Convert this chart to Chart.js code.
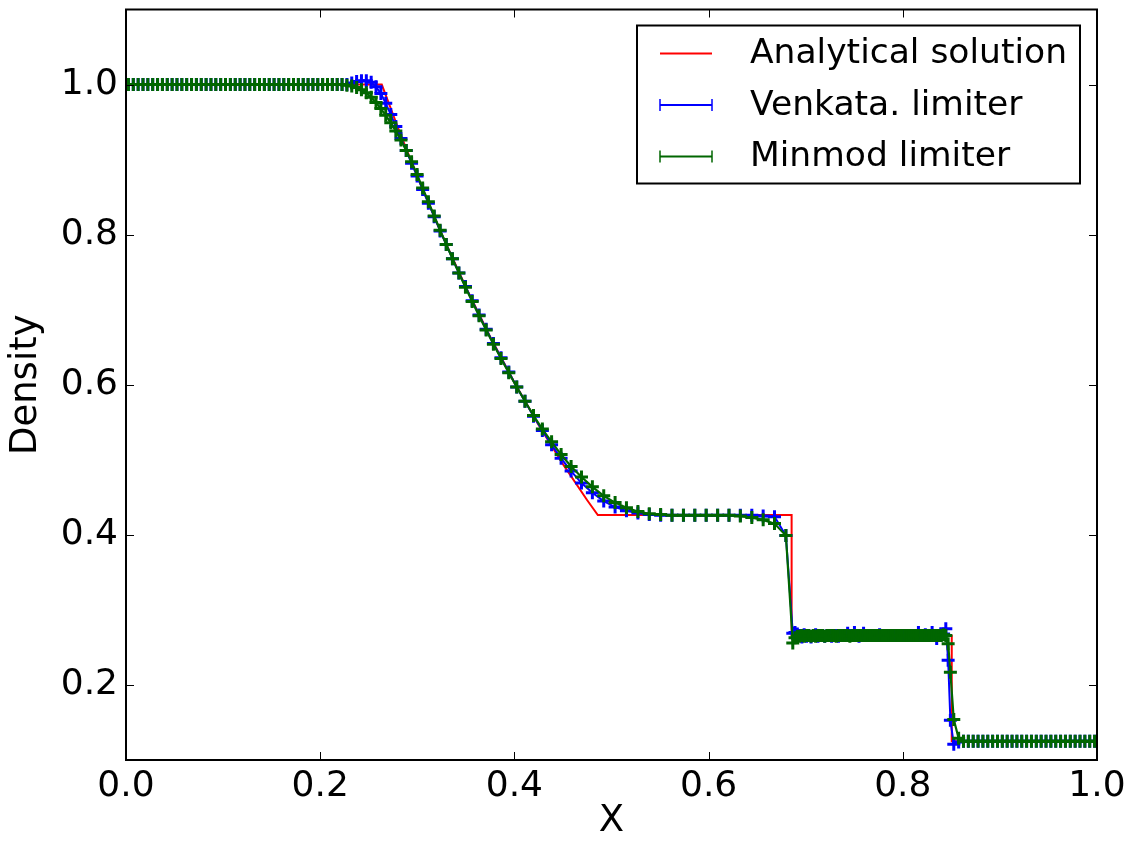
<!DOCTYPE html>
<html>
<head>
<meta charset="utf-8">
<script src="https://cdn.jsdelivr.net/npm/chart.js@4.4.0/dist/chart.umd.min.js"></script>
<style>
  body { margin: 0; background: #fff; }
  #wrap { width: 1133px; height: 844px; }
</style>
</head>
<body>
<div id="wrap"><canvas id="density-chart"></canvas></div>
<script>
// cell centres (same mesh used for both limiters)
const cellX = [
  0.0025, 0.0075, 0.0125, 0.0175, 0.0225, 0.0275, 0.0325, 0.0375, 0.0425, 0.0475,
  0.0525, 0.0575, 0.0625, 0.0675, 0.0725, 0.0775, 0.0825, 0.0875, 0.0925, 0.0975,
  0.1025, 0.1075, 0.1125, 0.1175, 0.1225, 0.1275, 0.1325, 0.1375, 0.1425, 0.1475,
  0.1525, 0.1575, 0.1625, 0.1675, 0.1725, 0.1775, 0.1825, 0.1875, 0.1925, 0.1975,
  0.2025, 0.2075, 0.2125, 0.2175, 0.2225, 0.2275, 0.2325, 0.2375, 0.2425, 0.2475,
  0.2525, 0.2575, 0.2625,
  0.2675, 0.2727, 0.2779, 0.2832, 0.2886, 0.2941, 0.2998, 0.3055, 0.3114, 0.3174,
  0.3235, 0.3298, 0.3362, 0.3428, 0.3496, 0.3565, 0.3636, 0.3709, 0.3784, 0.3862,
  0.3942, 0.4024, 0.4109, 0.4197, 0.4288, 0.4383, 0.4481, 0.4584, 0.4691, 0.4803,
  0.4920, 0.5037, 0.5154, 0.5272, 0.5389, 0.5506, 0.5623, 0.5741, 0.5858, 0.5975,
  0.6093, 0.6210, 0.6327, 0.6445, 0.6562, 0.6679, 0.6796,
  0.6867, 0.6890, 0.6914, 0.6937, 0.6961, 0.6984, 0.7008, 0.7031, 0.7055, 0.7079,
  0.7102, 0.7126, 0.7149, 0.7173, 0.7196, 0.7220, 0.7243, 0.7267, 0.7290, 0.7314,
  0.7337, 0.7361, 0.7384, 0.7408, 0.7432, 0.7455, 0.7479, 0.7502, 0.7526, 0.7549,
  0.7573, 0.7596, 0.7620, 0.7643, 0.7667, 0.7690, 0.7714, 0.7738, 0.7761, 0.7785,
  0.7808, 0.7832, 0.7855, 0.7879, 0.7902, 0.7926, 0.7949, 0.7973, 0.7996, 0.8020,
  0.8043, 0.8067, 0.8090, 0.8114, 0.8137, 0.8161, 0.8185, 0.8208, 0.8232, 0.8255,
  0.8279, 0.8302, 0.8326, 0.8349, 0.8373, 0.8396, 0.8420, 0.8443, 0.8467, 0.8490,
  0.8525, 0.8575, 0.8625, 0.8675, 0.8725, 0.8775, 0.8825, 0.8875, 0.8925, 0.8975,
  0.9025, 0.9075, 0.9125, 0.9175, 0.9225, 0.9275, 0.9325, 0.9375, 0.9425, 0.9475,
  0.9525, 0.9575, 0.9625, 0.9675, 0.9725, 0.9775, 0.9825, 0.9875, 0.9925, 0.9975
];

const venkataRho = [
  1.000, 1.000, 1.000, 1.000, 1.000, 1.000, 1.000, 1.000, 1.000, 1.000,
  1.000, 1.000, 1.000, 1.000, 1.000, 1.000, 1.000, 1.000, 1.000, 1.000,
  1.000, 1.000, 1.000, 1.000, 1.000, 1.000, 1.000, 1.000, 1.000, 1.000,
  1.000, 1.000, 1.000, 1.000, 1.000, 1.000, 1.000, 1.000, 1.000, 1.000,
  1.000, 1.000, 1.000, 1.000, 1.000, 1.000, 1.002, 1.004, 1.005, 1.005,
  1.003, 0.997, 0.988,
  0.975, 0.960, 0.944, 0.928, 0.912, 0.895, 0.878, 0.860, 0.842, 0.824,
  0.805, 0.787, 0.768, 0.749, 0.731, 0.712, 0.693, 0.674, 0.655, 0.636,
  0.617, 0.597, 0.578, 0.558, 0.539, 0.520, 0.502, 0.485, 0.469, 0.456,
  0.445, 0.437, 0.432, 0.429, 0.427, 0.426, 0.426, 0.426, 0.426, 0.426,
  0.426, 0.426, 0.426, 0.426, 0.425, 0.424, 0.399,
  0.269, 0.270, 0.268, 0.266, 0.264, 0.267, 0.265, 0.266, 0.264, 0.266,
  0.267, 0.265, 0.266, 0.266, 0.265, 0.266, 0.266, 0.265, 0.266, 0.266,
  0.265, 0.266, 0.266, 0.266, 0.269, 0.266, 0.266, 0.270, 0.266, 0.265,
  0.266, 0.269, 0.266, 0.266, 0.266, 0.266, 0.266, 0.266, 0.267, 0.266,
  0.266, 0.266, 0.266, 0.266, 0.266, 0.266, 0.266, 0.266, 0.266, 0.266,
  0.266, 0.266, 0.266, 0.266, 0.266, 0.270, 0.266, 0.266, 0.267, 0.266,
  0.266, 0.270, 0.266, 0.262, 0.266, 0.267, 0.268, 0.275, 0.233, 0.153,
  0.121, 0.124, 0.125, 0.125, 0.125, 0.125, 0.125, 0.125, 0.125, 0.125,
  0.125, 0.125, 0.125, 0.125, 0.125, 0.125, 0.125, 0.125, 0.125, 0.125,
  0.125, 0.125, 0.125, 0.125, 0.125, 0.125, 0.125, 0.125, 0.125, 0.125
];

const minmodRho = [
  1.000, 1.000, 1.000, 1.000, 1.000, 1.000, 1.000, 1.000, 1.000, 1.000,
  1.000, 1.000, 1.000, 1.000, 1.000, 1.000, 1.000, 1.000, 1.000, 1.000,
  1.000, 1.000, 1.000, 1.000, 1.000, 1.000, 1.000, 1.000, 1.000, 1.000,
  1.000, 1.000, 1.000, 1.000, 1.000, 1.000, 1.000, 1.000, 1.000, 1.000,
  1.000, 1.000, 1.000, 1.000, 1.000, 0.999, 0.998, 0.996, 0.993, 0.989,
  0.983, 0.976, 0.968,
  0.959, 0.949, 0.938, 0.926, 0.912, 0.897, 0.880, 0.862, 0.844, 0.825,
  0.806, 0.787, 0.768, 0.749, 0.730, 0.711, 0.692, 0.673, 0.654, 0.635,
  0.616, 0.597, 0.578, 0.559, 0.541, 0.524, 0.507, 0.491, 0.477, 0.464,
  0.452, 0.443, 0.436, 0.431, 0.428, 0.427, 0.426, 0.426, 0.426, 0.426,
  0.426, 0.426, 0.425, 0.423, 0.420, 0.415, 0.399,
  0.256, 0.263, 0.265, 0.265, 0.266, 0.265, 0.266, 0.266, 0.265, 0.266,
  0.265, 0.266, 0.266, 0.266, 0.265, 0.266, 0.266, 0.266, 0.266, 0.265,
  0.266, 0.266, 0.266, 0.266, 0.266, 0.265, 0.266, 0.266, 0.266, 0.266,
  0.266, 0.266, 0.266, 0.266, 0.266, 0.266, 0.266, 0.266, 0.266, 0.266,
  0.266, 0.266, 0.266, 0.266, 0.266, 0.266, 0.266, 0.266, 0.266, 0.266,
  0.266, 0.266, 0.266, 0.266, 0.266, 0.266, 0.266, 0.266, 0.266, 0.266,
  0.266, 0.266, 0.266, 0.266, 0.266, 0.266, 0.267, 0.266, 0.255, 0.217,
  0.154, 0.129, 0.125, 0.125, 0.125, 0.125, 0.125, 0.125, 0.125, 0.125,
  0.125, 0.125, 0.125, 0.125, 0.125, 0.125, 0.125, 0.125, 0.125, 0.125,
  0.125, 0.125, 0.125, 0.125, 0.125, 0.125, 0.125, 0.125, 0.125, 0.125
];

// exact Riemann solution, sampled along the rarefaction fan
const exactX = [0.0, 0.2634, 0.2817, 0.300, 0.325, 0.350, 0.375, 0.400, 0.425, 0.450, 0.475, 0.4859, 0.6855, 0.6855, 0.8504, 0.8504, 1.0];
const exactRho = [1.0, 1.0, 0.9371, 0.8775, 0.8010, 0.7300, 0.6641, 0.6030, 0.5465, 0.4942, 0.4461, 0.4263, 0.4263, 0.2656, 0.2656, 0.125, 0.125];

const xTicks = [0.0, 0.2, 0.4, 0.6, 0.8, 1.0];
const yTicks = [0.2, 0.4, 0.6, 0.8, 1.0];

const toPoints = (xs, ys) => xs.map((x, i) => ({ x: x, y: ys[i] }));

Chart.defaults.font.family = '"DejaVu Sans", sans-serif';
Chart.defaults.color = '#000';

// black frame with inward tick marks on all four sides
const frame = {
  id: 'frame',
  afterDatasetsDraw(chart) {
    const { ctx, chartArea: a, scales } = chart;
    ctx.save();
    ctx.strokeStyle = '#000';
    ctx.lineWidth = 1;
    ctx.beginPath();
    xTicks.forEach(v => {
      const px = Math.round(scales.x.getPixelForValue(v)) + 0.5;
      ctx.moveTo(px, a.bottom); ctx.lineTo(px, a.bottom - 8);
      ctx.moveTo(px, a.top); ctx.lineTo(px, a.top + 8);
    });
    yTicks.forEach(v => {
      const py = Math.round(scales.y.getPixelForValue(v)) + 0.5;
      ctx.moveTo(a.left, py); ctx.lineTo(a.left + 8, py);
      ctx.moveTo(a.right, py); ctx.lineTo(a.right - 8, py);
    });
    ctx.stroke();
    ctx.lineWidth = 2;
    ctx.strokeRect(a.left, a.top, a.right - a.left, a.bottom - a.top);
    ctx.restore();
  }
};

// legend box in the upper right corner of the plot
const legendBox = {
  id: 'legendBox',
  afterDraw(chart) {
    const { ctx, chartArea: a } = chart;
    const left = a.right - 460, top = a.top + 16, w = 443, h = 158;
    ctx.save();
    ctx.fillStyle = '#fff';
    ctx.fillRect(left, top, w, h);
    ctx.strokeStyle = '#000';
    ctx.lineWidth = 2;
    ctx.strokeRect(left, top, w, h);
    ctx.font = '34.5px "DejaVu Sans"';
    ctx.textBaseline = 'middle';
    chart.data.datasets.forEach((ds, i) => {
      const y = top + 28 + i * 51.5;
      ctx.strokeStyle = ds.borderColor;
      ctx.lineWidth = 2;
      ctx.beginPath();
      ctx.moveTo(left + 23, y); ctx.lineTo(left + 75, y);
      ctx.stroke();
      if (ds.pointRadius > 0) {
        ctx.lineWidth = 1.5;
        ctx.beginPath();
        [left + 23, left + 75].forEach(mx => {
          ctx.moveTo(mx, y - 6); ctx.lineTo(mx, y + 6);
        });
        ctx.stroke();
      }
      ctx.fillStyle = '#000';
      ctx.fillText(ds.label, left + 113, y + 1);
    });
    ctx.restore();
  }
};

new Chart(document.getElementById('density-chart'), {
  type: 'scatter',
  data: {
    datasets: [
      {
        label: 'Analytical solution',
        data: toPoints(exactX, exactRho),
        showLine: true,
        borderColor: '#ff0000',
        borderWidth: 2,
        pointRadius: 0,
        order: 3
      },
      {
        label: 'Venkata. limiter',
        data: toPoints(cellX, venkataRho),
        showLine: true,
        borderColor: '#0000ff',
        borderWidth: 2,
        pointStyle: 'cross',
        pointRadius: 6.5,
        pointBorderWidth: 3,
        pointBorderColor: '#0000ff',
        order: 2
      },
      {
        label: 'Minmod limiter',
        data: toPoints(cellX, minmodRho),
        showLine: true,
        borderColor: '#006600',
        borderWidth: 2.2,
        pointStyle: 'cross',
        pointRadius: 6.5,
        pointBorderWidth: 3,
        pointBorderColor: '#006600',
        order: 1
      }
    ]
  },
  options: {
    responsive: true,
    maintainAspectRatio: false,
    animation: false,
    layout: { padding: { top: 8, right: 36, left: 0, bottom: 0 } },
    plugins: { legend: { display: false }, tooltip: { enabled: false } },
    scales: {
      x: {
        type: 'linear',
        min: 0,
        max: 1,
        grid: { display: false, drawTicks: false },
        border: { display: false },
        ticks: { font: { size: 36 }, padding: 5, callback: v => v.toFixed(1) },
        title: { display: true, text: 'X', font: { size: 37 }, padding: { top: 0, bottom: 0 } },
        afterBuildTicks: s => { s.ticks = xTicks.map(v => ({ value: v })); },
        afterFit: s => { s.height = 84; s.paddingLeft = 0; s.paddingRight = 0; }
      },
      y: {
        type: 'linear',
        min: 0.1,
        max: 1.1,
        grid: { display: false, drawTicks: false },
        border: { display: false },
        ticks: { font: { size: 36 }, padding: 8, callback: v => v.toFixed(1) },
        title: { display: true, text: 'Density', font: { size: 37 }, padding: { top: 4, bottom: 0 } },
        afterBuildTicks: s => { s.ticks = yTicks.map(v => ({ value: v })); },
        afterFit: s => { s.width = 126; s.paddingTop = 0; s.paddingBottom = 0; }
      }
    }
  },
  plugins: [frame, legendBox]
});
</script>
</body>
</html>
